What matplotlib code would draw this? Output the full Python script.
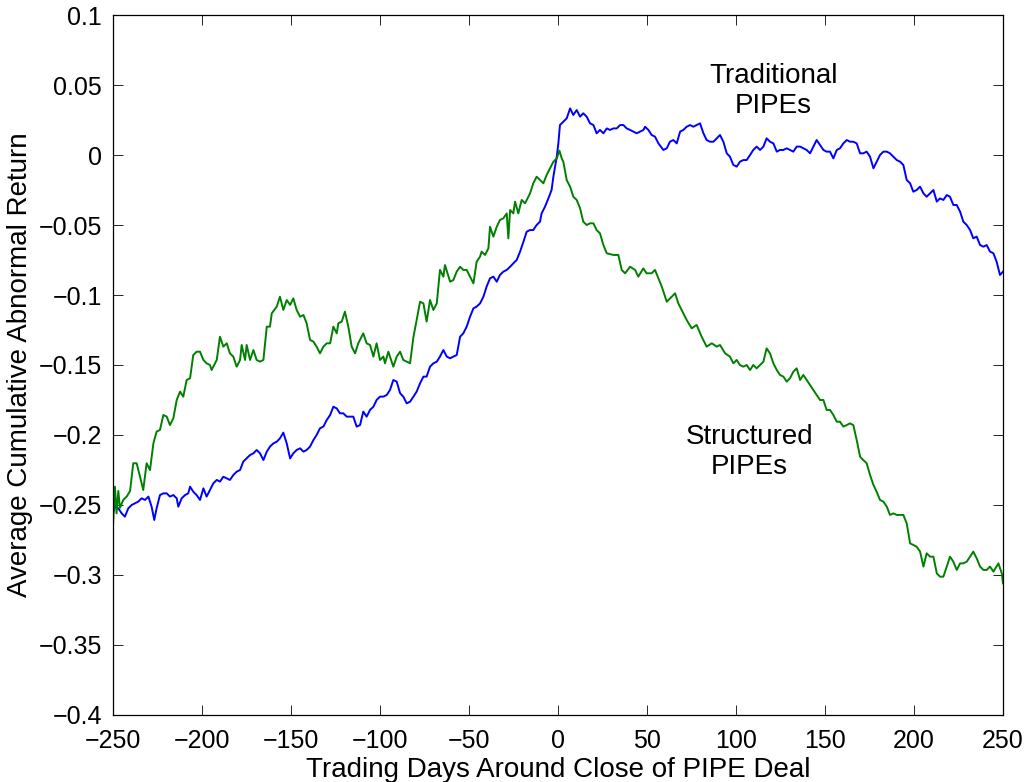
import matplotlib
matplotlib.use("Agg")
import matplotlib.pyplot as plt

# trading days and CAR values
days_trad = [-250, -248.9, -247, -245.1, -243.3, -241.4, -239.5, -237.6, -235.8, -233.9,
             -232, -230.1, -228.3, -226.8, -225.5, -223.6, -221.7, -219.8, -218, -216.1,
             -214.2, -213.3, -211.4, -209.5, -207.7, -206.7, -204.9, -203, -201.1, -199.2,
             -197.4, -195.5, -193.6, -191.7, -189.9, -188, -186.1, -184.3, -182.4, -180.5,
             -178.6, -176.8, -174.9, -173, -171.1, -169.3, -167.4, -165.5, -163.6, -161.8,
             -159.9, -158, -156.2, -154.3, -152.4, -150.5, -148.7, -146.8, -144.9, -143,
             -141.2, -139.3, -137.4, -135.6, -133.7, -131.8, -129.9, -128, -126.2, -124.3,
             -122.5, -120.6, -118.7, -116.8, -115, -113.1, -111.2, -109.4, -107.5, -105.6,
             -103.7, -101.9, -100, -98.1, -96.2, -94.4, -92.5, -90.6, -88.7, -86.9,
             -85, -83.1, -81.2, -79.4, -77.5, -75.6, -73.8, -71.9, -70, -68.1,
             -66.3, -64.4, -62.5, -60.6, -58.8, -56.9, -55, -53.2, -51.3, -49.4,
             -47.5, -45.7, -43.8, -41.9, -40.1, -38.2, -36.3, -34.4, -32.6, -30.7,
             -28.8, -26.9, -25.1, -23.2, -21.3, -19.4, -17.6, -15.7, -13.9, -12,
             -10.1, -9.2, -7.3, -5.4, -3.6, -2.6, -0.7, 0.2, 1.1, 3,
             4.9, 6.8, 8.6, 10.5, 12.4, 14.2, 16.1, 18, 19.9, 21.7,
             23.6, 25.5, 27.4, 29.2, 31.1, 33, 34.9, 36.7, 38.6, 40.5,
             42.3, 44.2, 46.1, 48, 48.9, 50.8, 52.6, 54.5, 56.4, 59.2,
             61.1, 62.9, 64.8, 66.7, 68.6, 70.4, 72.3, 74.2, 76, 77.9,
             79.8, 81.7, 83.5, 85.4, 87.3, 89.2, 91, 92.9, 94.8, 96.6,
             98.5, 100.4, 102.2, 104.1, 106, 107.9, 109.7, 111.6, 113.5, 115.4,
             117.2, 119.1, 121, 122.9, 124.7, 126.6, 128.5, 130.3, 132.2, 134.1,
             136, 137.8, 139.7, 141.6, 143.5, 145.3, 147.2, 149.1, 150.9, 152.8,
             154.7, 156.6, 158.4, 160.3, 162.2, 164, 165.9, 167.8, 169.7, 171.5,
             173.4, 175.3, 177.2, 179, 180.9, 182.8, 184.7, 186.5, 188.4, 190.3,
             192.2, 194, 195.9, 197.8, 199.6, 201.5, 203.4, 205.3, 207.1, 209,
             210.9, 212.8, 214.6, 216.5, 218.4, 220.2, 222.1, 224, 225.9, 227.7,
             229.6, 231.5, 233.3, 235.2, 237.1, 239, 240.8, 242.7, 244.6, 246.4,
             248.3, 250]
car_trad = [-0.256, -0.2512, -0.2524, -0.256, -0.2583, -0.2524, -0.25, -0.2488, -0.2476, -0.2452,
            -0.2464, -0.244, -0.2512, -0.2607, -0.2524, -0.2429, -0.2417, -0.2417, -0.244, -0.2429,
            -0.2452, -0.2512, -0.2452, -0.2429, -0.2417, -0.2369, -0.2405, -0.2429, -0.2464, -0.2381,
            -0.244, -0.2393, -0.2345, -0.2321, -0.2333, -0.2298, -0.231, -0.2321, -0.2286, -0.2262,
            -0.225, -0.219, -0.2167, -0.2143, -0.2131, -0.2107, -0.2131, -0.2179, -0.2119, -0.2083,
            -0.206, -0.2048, -0.2024, -0.1983, -0.206, -0.2167, -0.2131, -0.2107, -0.2095, -0.2119,
            -0.2107, -0.2083, -0.2036, -0.2, -0.1952, -0.194, -0.1893, -0.1857, -0.1798, -0.181,
            -0.1845, -0.1845, -0.1869, -0.1869, -0.1869, -0.194, -0.1929, -0.1833, -0.1869, -0.1821,
            -0.1798, -0.175, -0.1726, -0.1726, -0.1714, -0.1679, -0.1607, -0.1619, -0.1702, -0.1726,
            -0.1774, -0.1762, -0.1726, -0.169, -0.1631, -0.1583, -0.1583, -0.1512, -0.1488, -0.1476,
            -0.144, -0.1393, -0.144, -0.1452, -0.144, -0.1429, -0.1298, -0.1274, -0.1226, -0.1155,
            -0.1095, -0.1083, -0.106, -0.1012, -0.094, -0.0881, -0.0869, -0.0905, -0.0857, -0.0833,
            -0.0821, -0.0798, -0.0774, -0.075, -0.069, -0.0619, -0.0548, -0.0536, -0.0536, -0.05,
            -0.0476, -0.0417, -0.0369, -0.031, -0.025, -0.0155, -0.0012, 0.0083, 0.0214, 0.0238,
            0.0262, 0.0333, 0.0286, 0.0321, 0.0274, 0.0298, 0.0274, 0.0226, 0.0214, 0.0155,
            0.0179, 0.0155, 0.019, 0.0179, 0.019, 0.019, 0.0214, 0.0214, 0.019, 0.0179,
            0.0167, 0.0155, 0.0167, 0.0179, 0.0202, 0.0179, 0.0143, 0.0131, 0.0083, 0.0036,
            0.0048, 0.0095, 0.0107, 0.0083, 0.0167, 0.0179, 0.0202, 0.0214, 0.0202, 0.0214,
            0.0226, 0.0155, 0.0107, 0.0095, 0.0095, 0.0119, 0.0143, 0.0095, 0.0012, -0.0012,
            -0.0071, -0.0083, -0.0048, -0.0036, -0.0036, 0.0, 0.0036, 0.006, 0.0036, 0.006,
            0.0119, 0.0095, 0.0083, 0.0024, 0.0036, 0.0036, 0.0048, 0.0036, 0.0024, 0.006,
            0.006, 0.0048, 0.0036, 0.0012, 0.006, 0.0107, 0.0071, 0.0036, 0.0024, 0.0024,
            -0.0024, 0.0036, 0.0048, 0.0083, 0.0107, 0.0095, 0.0095, 0.0083, 0.0012, 0.0012,
            0.0024, -0.0012, -0.0095, -0.0048, 0.0, 0.0024, 0.0024, 0.0012, -0.0012, -0.0036,
            -0.0048, -0.0071, -0.0179, -0.0202, -0.0262, -0.025, -0.0226, -0.0274, -0.0298, -0.0274,
            -0.025, -0.0333, -0.031, -0.0321, -0.0286, -0.0298, -0.0357, -0.0357, -0.0405, -0.0476,
            -0.05, -0.0536, -0.0595, -0.0583, -0.0643, -0.0655, -0.0643, -0.069, -0.0702, -0.0762,
            -0.0857, -0.0833]

days_struct = [-250, -248.9, -248, -247, -246.1, -244.2, -242.3, -240.4, -238.6, -236.7,
               -234.8, -233, -231.1, -229.2, -227.3, -225.5, -223.6, -221.7, -219.8, -218,
               -216.1, -214.2, -212.3, -210.5, -208.6, -206.7, -204.9, -203, -201.1, -199.2,
               -197.4, -195.5, -194.6, -191.7, -189.9, -188, -186.1, -184.3, -182.4, -180.5,
               -178.6, -177.7, -175.8, -174.9, -173, -171.1, -169.3, -167.4, -165.5, -163.6,
               -161.8, -160.8, -158, -156.2, -154.3, -152.4, -150.5, -148.7, -146.8, -144.9,
               -143, -141.2, -139.3, -137.4, -135.6, -133.7, -131.8, -129.9, -128, -126.2,
               -124.3, -123.4, -121.5, -119.7, -117.8, -115.9, -114, -112.2, -109.4, -107.5,
               -105.6, -103.7, -101.9, -100, -98.1, -97.2, -95.3, -92.5, -90.6, -88.7,
               -86.9, -85, -83.1, -81.2, -79.4, -77.5, -75.6, -73.8, -71.9, -70,
               -68.1, -66.3, -64.4, -63.5, -60.6, -58.8, -56.9, -55, -53.2, -51.3,
               -49.4, -47.5, -45.7, -43.8, -42.9, -41, -39.1, -38.2, -36.3, -34.4,
               -32.6, -30.7, -28.8, -27.9, -26.9, -25.1, -24.1, -22.3, -20.4, -18.5,
               -15.7, -13.9, -12, -10.1, -8.2, -6.4, -4.5, -2.6, -0.7, 0.8,
               2.1, 3, 4.9, 6.8, 8.6, 10.5, 12.4, 14.2, 16.1, 18,
               19.9, 21.7, 23.6, 25.5, 27.4, 31.1, 33.9, 35.8, 37.7, 40.5,
               43.3, 45.1, 47.9, 49.8, 52.6, 54.5, 56.4, 58.3, 61.1, 63.9,
               65.8, 67.6, 70.4, 72.3, 75.1, 77.9, 80.7, 83.5, 86.4, 89.2,
               91, 93.9, 96.6, 98.5, 100.4, 102.2, 104.1, 106, 107.9, 109.7,
               111.6, 113.5, 115.4, 117.2, 119.1, 121, 122.9, 124.7, 126.6, 128.5,
               130.3, 132.2, 134.1, 136, 137.8, 139.7, 141.6, 143.5, 145.3, 147.2,
               149.1, 150.9, 152.8, 154.7, 156.6, 158.4, 160.3, 162.2, 164, 165.9,
               167.8, 169.7, 171.5, 173.4, 175.3, 177.2, 179, 180.9, 182.8, 184.7,
               186.5, 188.4, 190.3, 192.2, 194, 195.9, 197.8, 199.6, 201.5, 203.4,
               205.3, 207.1, 209, 210.9, 212.8, 214.6, 216.5, 218.4, 220.2, 222.1,
               224, 225.9, 227.7, 229.6, 231.5, 233.3, 235.2, 237.1, 239, 240.8,
               242.7, 244.6, 247.4, 249.3, 250]
car_struct = [-0.2655, -0.2369, -0.256, -0.24, -0.252, -0.2464, -0.244, -0.24, -0.2202, -0.2202,
              -0.2298, -0.2393, -0.2202, -0.225, -0.206, -0.1976, -0.1964, -0.1857, -0.1869, -0.1929,
              -0.1881, -0.175, -0.169, -0.1726, -0.1607, -0.1595, -0.1429, -0.1405, -0.1405, -0.1464,
              -0.1488, -0.15, -0.1536, -0.1464, -0.1298, -0.1369, -0.1345, -0.1417, -0.144, -0.1512,
              -0.1464, -0.1357, -0.1464, -0.1357, -0.1464, -0.1393, -0.1464, -0.1476, -0.1464, -0.1226,
              -0.1226, -0.1131, -0.1083, -0.1012, -0.1107, -0.1036, -0.1071, -0.1024, -0.1107, -0.1155,
              -0.1143, -0.1202, -0.1321, -0.1333, -0.1369, -0.1417, -0.1369, -0.1345, -0.1345, -0.1226,
              -0.1274, -0.1202, -0.119, -0.1119, -0.1226, -0.1369, -0.1417, -0.1345, -0.1274, -0.1345,
              -0.1357, -0.144, -0.1345, -0.1464, -0.144, -0.1488, -0.1405, -0.1512, -0.144, -0.1405,
              -0.1464, -0.1476, -0.1488, -0.1298, -0.1179, -0.1048, -0.106, -0.119, -0.1036, -0.1107,
              -0.106, -0.0821, -0.0869, -0.0786, -0.0905, -0.0893, -0.0833, -0.0798, -0.0821, -0.0821,
              -0.0869, -0.0917, -0.0762, -0.0726, -0.069, -0.0714, -0.0667, -0.0512, -0.0583, -0.0512,
              -0.0464, -0.0452, -0.0417, -0.0595, -0.0393, -0.0417, -0.0333, -0.0417, -0.0321, -0.0345,
              -0.0274, -0.0202, -0.0155, -0.0179, -0.0202, -0.0143, -0.0095, -0.0048, -0.0024, 0.0031,
              -0.0024, -0.0048, -0.0179, -0.0226, -0.0298, -0.0321, -0.0381, -0.0476, -0.05, -0.0488,
              -0.0488, -0.0536, -0.056, -0.0643, -0.0702, -0.0714, -0.0714, -0.0821, -0.0845, -0.0798,
              -0.0821, -0.0869, -0.081, -0.0845, -0.0845, -0.0821, -0.0881, -0.094, -0.1048, -0.1012,
              -0.0988, -0.106, -0.1131, -0.1179, -0.1238, -0.1214, -0.1298, -0.1369, -0.1345, -0.1369,
              -0.1357, -0.1417, -0.144, -0.1488, -0.1464, -0.15, -0.1512, -0.15, -0.1536, -0.15,
              -0.1524, -0.15, -0.1476, -0.1381, -0.1417, -0.1488, -0.1536, -0.1571, -0.1583, -0.1619,
              -0.1595, -0.1548, -0.1524, -0.1607, -0.1571, -0.1607, -0.1643, -0.1679, -0.1714, -0.175,
              -0.175, -0.1821, -0.1821, -0.1857, -0.1905, -0.1905, -0.194, -0.1929, -0.1917, -0.1929,
              -0.2036, -0.2155, -0.2179, -0.2202, -0.2286, -0.2357, -0.2405, -0.2464, -0.2476, -0.2512,
              -0.2571, -0.256, -0.2571, -0.2571, -0.2571, -0.2631, -0.2774, -0.2786, -0.2798, -0.2833,
              -0.294, -0.2845, -0.2869, -0.2869, -0.2988, -0.3012, -0.3012, -0.294, -0.2869, -0.2905,
              -0.2964, -0.2917, -0.2917, -0.2905, -0.2869, -0.2833, -0.2881, -0.294, -0.2964, -0.2964,
              -0.294, -0.2976, -0.2917, -0.2988, -0.306]

xticks = [-250, -200, -150, -100, -50, 0, 50, 100, 150, 200, 250]
yticks = [-0.4, -0.35, -0.3, -0.25, -0.2, -0.15, -0.1, -0.05, 0, 0.05, 0.1]
ytick_labels = ["\u22120.4", "\u22120.35", "\u22120.3", "\u22120.25", "\u22120.2", "\u22120.15",
                "\u22120.1", "\u22120.05", "0", "0.05", "0.1"]
xtick_labels = ["\u2212250", "\u2212200", "\u2212150", "\u2212100", "\u221250", "0",
                "50", "100", "150", "200", "250"]

plt.rcParams['font.family'] = ['Liberation Sans', 'DejaVu Sans']

fig = plt.figure(figsize=(10.28, 7.82), dpi=100)
ax = fig.add_axes([0.1099, 0.0857, 0.8658, 0.8951])

ax.plot(days_trad, car_trad, color=(0, 0, 1), lw=1.4)
ax.plot(days_struct, car_struct, color=(0, 0.5, 0), lw=1.4)

ax.set_xlim(-250, 250)
ax.set_ylim(-0.4, 0.1)
ax.set_xticks(xticks)
ax.set_xticklabels(xtick_labels)
ax.set_yticks(yticks)
ax.set_yticklabels(ytick_labels)
ax.tick_params(direction='in', length=7, width=0.6, labelsize=18,
               top=True, right=True, pad=10)
ax.tick_params(axis='y', pad=8)
for s in ax.spines.values():
    s.set_linewidth(0.9)

ax.set_xlabel("Trading Days Around Close of PIPE Deal", fontsize=20, labelpad=3)
ax.set_ylabel("Average Cumulative Abnormal Return", fontsize=20, labelpad=4)

ax.text(121, 0.0455, "Traditional\nPIPEs", fontsize=20, ha='center', va='center',
        linespacing=1.2)
ax.text(107.5, -0.2125, "Structured\nPIPEs", fontsize=20, ha='center', va='center',
        linespacing=1.2)

fig.savefig("out.png", dpi=100)
